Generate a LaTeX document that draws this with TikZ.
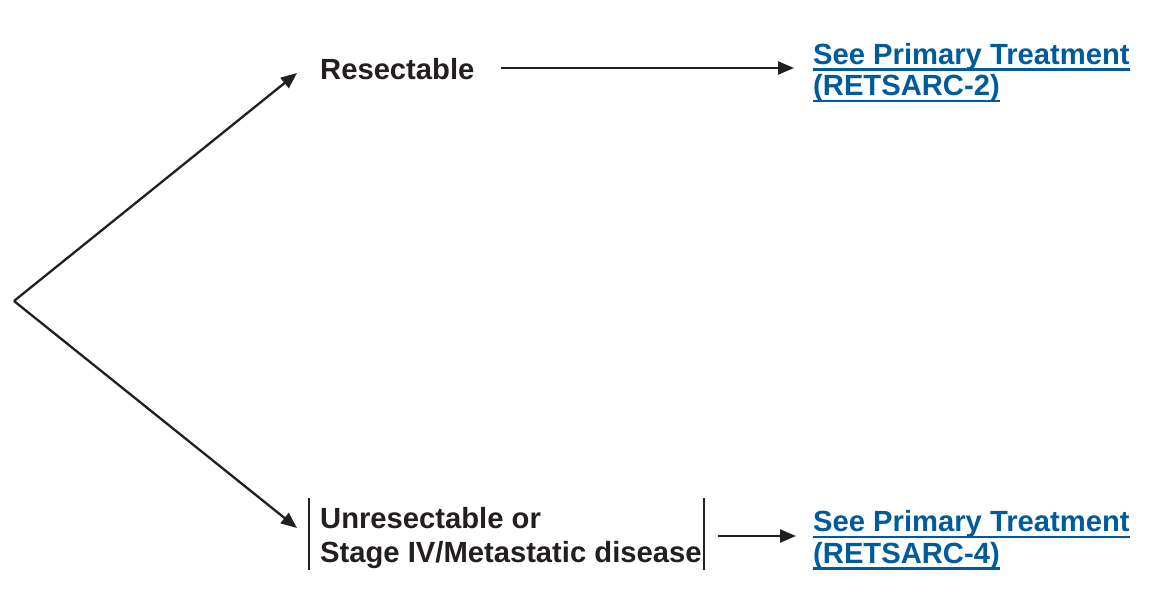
\documentclass[tikz,border=0pt]{standalone}
\usepackage{fontspec}
\setmainfont{Liberation Sans}
\usetikzlibrary{arrows.meta}
\definecolor{linkblue}{RGB}{0,91,156}
\definecolor{ink}{RGB}{35,31,32}
\newcommand\ulk[1]{\setbox0\hbox{#1}\rlap{\vrule width\wd0 height -4.3pt depth 6.8pt}\box0}
\begin{document}
\begin{tikzpicture}[x=1pt,y=-1pt,
  lbl/.style={font=\fontsize{29.2}{34}\selectfont\bfseries, inner sep=0pt, text=ink, align=left},
  lnk/.style={font=\fontsize{29.2}{31.5}\selectfont\bfseries, inner sep=0pt, text=linkblue, align=left},
  arr/.style={line width=2.3pt, draw=ink, -{Triangle[length=16pt,width=13pt]}},
  barline/.style={line width=2.3pt, draw=ink}]
\useasboundingbox (0,0) rectangle (1154,605);
\fill[white] (0,0) rectangle (1154,605);
\node[lbl, anchor=base west] (res) at (320,79) {Resectable};
\node[lnk, anchor=base west] (l1) at (813,95.5) {\ulk{See Primary Treatment}\\\ulk{(RETSARC-2)}};
\node[lbl, anchor=base west] (un) at (320,562) {Unresectable or\\Stage IV/Metastatic disease};
\node[lnk, anchor=base west] (l2) at (813,563) {\ulk{See Primary Treatment}\\\ulk{(RETSARC-4)}};
\coordinate (o) at (14,301);
\coordinate (t1) at (297,73);
\coordinate (t2) at (297,528);
\coordinate (a1s) at (501,68);
\coordinate (a1e) at (794,68);
\coordinate (a2s) at (718,536);
\coordinate (a2e) at (796,536);
\coordinate (b1t) at (309,498);
\coordinate (b1b) at (309,570);
\coordinate (b2t) at (704,498);
\coordinate (b2b) at (704,570);
\draw[arr] (o) -- (t1);
\draw[arr] (o) -- (t2);
\draw[arr] (a1s) -- (a1e);
\draw[arr] (a2s) -- (a2e);
\draw[barline] (b1t) -- (b1b);
\draw[barline] (b2t) -- (b2b);
\end{tikzpicture}
\end{document}
